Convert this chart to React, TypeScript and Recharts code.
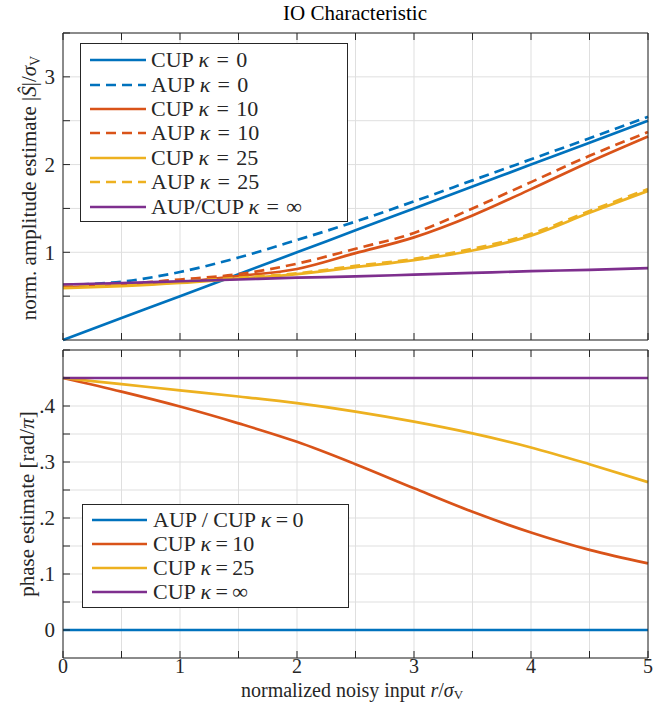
import React from 'react';
import { LineChart, Line, XAxis, YAxis, CartesianGrid, Legend, Label } from 'recharts';

// x grid and tick positions
const xValues = [0, 0.5, 1, 1.5, 2, 2.5, 3, 3.5, 4, 4.5, 5];
const xTicks = [0, 0.5, 1, 1.5, 2, 2.5, 3, 3.5, 4, 4.5, 5];
const ampTicks = [0, 0.5, 1, 1.5, 2, 2.5, 3, 3.5];
const phaseTicks = [0, 0.05, 0.1, 0.15, 0.2, 0.25, 0.3, 0.35, 0.4, 0.45, 0.5];
const phaseLabels: Record<string, string> = { '0': '0', '0.1': '.1', '0.2': '.2', '0.3': '.3', '0.4': '.4' };

// amplitude estimate (top)
const ampCupK0 = [0, 0.25, 0.5, 0.75, 1.0, 1.25, 1.5, 1.75, 2.0, 2.25, 2.5];
const ampAupK0 = [0.627, 0.665, 0.775, 0.94, 1.14, 1.35, 1.58, 1.82, 2.06, 2.3, 2.545];
const ampCupK10 = [0.6, 0.625, 0.66, 0.73, 0.81, 0.99, 1.17, 1.42, 1.72, 2.03, 2.32];
const ampAupK10 = [0.627, 0.64, 0.69, 0.75, 0.87, 1.04, 1.22, 1.5, 1.8, 2.1, 2.37];
const ampCupK25 = [0.59, 0.614, 0.65, 0.7, 0.75, 0.83, 0.91, 1.02, 1.19, 1.45, 1.7];
const ampAupK25 = [0.627, 0.632, 0.665, 0.71, 0.76, 0.845, 0.925, 1.04, 1.21, 1.47, 1.72];
const ampInf = [0.633, 0.65, 0.67, 0.69, 0.71, 0.725, 0.745, 0.765, 0.785, 0.8, 0.82];

// phase estimate (bottom)
const phK0 = [0, 0, 0, 0, 0, 0, 0, 0, 0, 0, 0];
const phK10 = [0.45, 0.4256, 0.399, 0.369, 0.336, 0.296, 0.253, 0.211, 0.174, 0.143, 0.119];
const phK25 = [0.45, 0.439, 0.428, 0.417, 0.405, 0.39, 0.372, 0.351, 0.326, 0.296, 0.264];
const phInf = [0.45, 0.45, 0.45, 0.45, 0.45, 0.45, 0.45, 0.45, 0.45, 0.45, 0.45];

const BLUE = '#0072BD';
const ORANGE = '#D95319';
const YELLOW = '#EDB120';
const PURPLE = '#7E2F8E';
const AX = '#262626';
const GRID = '#dfdfdf';
const SERIF = '"Liberation Serif", "Times New Roman", serif';
const DASH = '10 6';
const LW = 2.7;

const topSeries = [
  { key: 'cupK0', color: BLUE, dash: undefined, pre: 'CUP', k: '0' },
  { key: 'aupK0', color: BLUE, dash: DASH, pre: 'AUP', k: '0' },
  { key: 'cupK10', color: ORANGE, dash: undefined, pre: 'CUP', k: '10' },
  { key: 'aupK10', color: ORANGE, dash: DASH, pre: 'AUP', k: '10' },
  { key: 'cupK25', color: YELLOW, dash: undefined, pre: 'CUP', k: '25' },
  { key: 'aupK25', color: YELLOW, dash: DASH, pre: 'AUP', k: '25' },
  { key: 'inf', color: PURPLE, dash: undefined, pre: 'AUP/CUP', k: '∞' },
];

const bottomSeries = [
  { key: 'k0', color: BLUE, pre: 'AUP / CUP', k: '0' },
  { key: 'k10', color: ORANGE, pre: 'CUP', k: '10' },
  { key: 'k25', color: YELLOW, pre: 'CUP', k: '25' },
  { key: 'inf', color: PURPLE, pre: 'CUP', k: '∞' },
];

const topData = xValues.map((x, i) => ({
  x,
  cupK0: ampCupK0[i],
  aupK0: ampAupK0[i],
  cupK10: ampCupK10[i],
  aupK10: ampAupK10[i],
  cupK25: ampCupK25[i],
  aupK25: ampAupK25[i],
  inf: ampInf[i],
}));

const bottomData = xValues.map((x, i) => ({
  x,
  k0: phK0[i],
  k10: phK10[i],
  k25: phK25[i],
  inf: phInf[i],
}));

const tickStyle = { fill: AX, fontSize: 21, fontFamily: SERIF };
const xTickStyle = { fill: AX, fontSize: 20, fontFamily: SERIF };
const blank = () => '';
const intOnly = (v: number) => (Number.isInteger(v) ? String(v) : '');

const TopLegend = () => (
  <div style={{ width: 266, height: 173, border: `1px solid ${AX}`, background: '#fff', paddingTop: 4, boxSizing: 'content-box' }}>
    {topSeries.map(s => (
      <div key={s.key} style={{ display: 'flex', alignItems: 'center', height: 24.4 }}>
        <svg width={70} height={10}>
          <line x1={9} x2={65} y1={5} y2={5} stroke={s.color} strokeWidth={LW} strokeDasharray={s.dash} />
        </svg>
        <span style={{ fontFamily: SERIF, fontSize: 22, color: AX, whiteSpace: 'pre' }}>
          {s.pre} <i>κ</i>{'\u2004=\u2004'}{s.k}
        </span>
      </div>
    ))}
  </div>
);

const BottomLegend = () => (
  <div style={{ width: 265, height: 99, border: `1px solid ${AX}`, background: '#fff', paddingTop: 3, boxSizing: 'content-box' }}>
    {bottomSeries.map(s => (
      <div key={s.key} style={{ display: 'flex', alignItems: 'center', height: 23.9 }}>
        <svg width={70} height={10}>
          <line x1={9} x2={64} y1={5} y2={5} stroke={s.color} strokeWidth={LW} />
        </svg>
        <span style={{ fontFamily: SERIF, fontSize: 22, color: AX, whiteSpace: 'pre' }}>
          {s.pre} <i>κ</i>{'\u2009=\u2009'}{s.k}
        </span>
      </div>
    ))}
  </div>
);

const App = () => {
  return (
    <div style={{ position: 'absolute', left: 0, top: 0, width: 666, height: 702, background: '#fff' }}>
      <div style={{ position: 'absolute', left: 0, top: 0 }}>
        <LineChart width={666} height={345} data={topData} margin={{ top: 32, right: 17, bottom: 4, left: 23 }}>
          <CartesianGrid stroke={GRID} />
          <XAxis dataKey="x" type="number" domain={[0, 5]} ticks={xTicks} height={1} tickFormatter={blank}
            tickSize={-7} stroke={AX} />
          <XAxis xAxisId="t" orientation="top" dataKey="x" type="number" domain={[0, 5]} ticks={xTicks} height={1}
            tickFormatter={blank} tickSize={-7} stroke={AX}>
            <Label content={() => (
              <text x={355} y={20} textAnchor="middle" fontFamily={SERIF} fontSize={21} fill="#000">IO Characteristic</text>
            )} />
          </XAxis>
          <YAxis type="number" domain={[0, 3.5]} ticks={ampTicks} width={40} tickFormatter={intOnly}
            tickSize={-7} tickMargin={15} stroke={AX} tick={tickStyle}>
            <Label content={() => (
              <text transform="translate(36,188) rotate(-90)" textAnchor="middle" fontFamily={SERIF} fontSize={21} fill={AX}>
                norm. amplitude estimate |<tspan fontStyle="italic">Ŝ</tspan>|/<tspan fontStyle="italic">σ</tspan>
                <tspan fontSize={14} dy={4}>V</tspan>
              </text>
            )} />
          </YAxis>
          <YAxis yAxisId="r" orientation="right" type="number" domain={[0, 3.5]} ticks={ampTicks} width={1}
            tickFormatter={blank} tickSize={-7} stroke={AX} />
          {topSeries.map(s => (
            <Line key={s.key} dataKey={s.key} type="monotone" stroke={s.color} strokeWidth={LW}
              strokeDasharray={s.dash} dot={false} isAnimationActive={false} />
          ))}
          <Legend layout="vertical" align="center" verticalAlign="middle" content={() => <TopLegend />}
            wrapperStyle={{ left: 80, top: 43, width: 268, height: 178 }} />
        </LineChart>
      </div>
      <div style={{ position: 'absolute', left: 0, top: 345 }}>
        <LineChart width={666} height={357} data={bottomData} margin={{ top: 4, right: 17, bottom: 14, left: 23 }}>
          <CartesianGrid stroke={GRID} />
          <XAxis dataKey="x" type="number" domain={[0, 5]} ticks={xTicks} height={30} tickFormatter={intOnly}
            tickSize={-7} tickMargin={8} stroke={AX} tick={xTickStyle}>
            <Label content={() => (
              <text x={352} y={352} textAnchor="middle" fontFamily={SERIF} fontSize={20} fill={AX}>
                normalized noisy input <tspan fontStyle="italic">r</tspan>/<tspan fontStyle="italic">σ</tspan>
                <tspan fontSize={13} dy={2}>V</tspan>
              </text>
            )} />
          </XAxis>
          <XAxis xAxisId="t" orientation="top" dataKey="x" type="number" domain={[0, 5]} ticks={xTicks} height={1}
            tickFormatter={blank} tickSize={-7} stroke={AX} />
          <YAxis type="number" domain={[-0.05, 0.5]} ticks={phaseTicks} width={40}
            tickFormatter={(v: number) => phaseLabels[String(v)] ?? ''} tickSize={-7} tickMargin={15} stroke={AX} tick={tickStyle}>
            <Label content={() => (
              <text transform="translate(34,159) rotate(-90)" textAnchor="middle" fontFamily={SERIF} fontSize={21} fill={AX}>
                phase estimate [rad/<tspan fontStyle="italic">π</tspan>]
              </text>
            )} />
          </YAxis>
          <YAxis yAxisId="r" orientation="right" type="number" domain={[-0.05, 0.5]} ticks={phaseTicks} width={1}
            tickFormatter={blank} tickSize={-7} stroke={AX} />
          {bottomSeries.map(s => (
            <Line key={s.key} dataKey={s.key} type="monotone" stroke={s.color} strokeWidth={LW}
              dot={false} isAnimationActive={false} />
          ))}
          <Legend layout="vertical" align="center" verticalAlign="middle" content={() => <BottomLegend />}
            wrapperStyle={{ left: 82, top: 159, width: 267, height: 103 }} />
        </LineChart>
      </div>
    </div>
  );
};

export default App;
